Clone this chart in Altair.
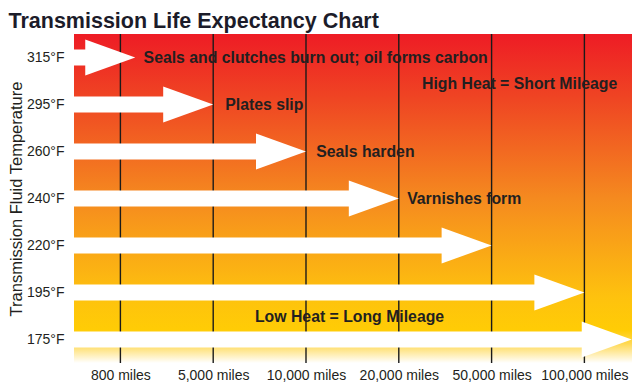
import altair as alt
import pandas as pd

# Data
temps = ["315°F", "295°F", "260°F", "240°F", "220°F", "195°F", "175°F"]
miles = ["800 miles", "5,000 miles", "10,000 miles", "20,000 miles", "50,000 miles", "100,000 miles"]
# arrow ends expressed in mileage-category units (0 = 800 miles ... 5 = 100,000 miles)
arrow_end = [0.16, 1, 2, 3, 4, 5, 5.51]

notes = ["Seals and clutches burn out; oil forms carbon", "Plates slip", "Seals harden",
         "Varnishes form", "High Heat = Short Mileage", "Low Heat = Long Mileage"]
note_x = [0.25, 1.13, 2.11, 3.09, 3.25, 1.45]
note_row = [0, 1, 2, 3, 0.57, 5.53]

X_DOMAIN = [-0.5, 5.513]
Y_DOMAIN = [-0.5, 6.5]
FONT = "Liberation Sans"
DARK = "#231f20"

arrows = pd.DataFrame({"row": list(range(len(temps))), "temp": temps, "end": arrow_end,
                       "start": [X_DOMAIN[0]] * len(temps)})
notes_df = pd.DataFrame({"text": notes, "x": note_x, "row": note_row})
miles_df = pd.DataFrame({"mile": miles, "pos": list(range(len(miles)))})
frame_df = pd.DataFrame({"x0": [X_DOMAIN[0]], "x1": [X_DOMAIN[1]],
                         "y0": [Y_DOMAIN[0]], "y1": [Y_DOMAIN[1]]})

label_expr_x = "[" + ",".join("'" + m + "'" for m in miles) + "][datum.value]"
label_expr_y = "[" + ",".join("'" + t + "'" for t in temps) + "][datum.value]"

xscale = alt.Scale(domain=X_DOMAIN, nice=False, zero=False)
yscale = alt.Scale(domain=Y_DOMAIN, nice=False, zero=False, reverse=True)

x_axis = alt.Axis(values=list(range(len(miles))), labelExpr=label_expr_x, grid=False,
                  ticks=False, domain=False,
                  labelFont=FONT, labelFontSize=14, labelColor=DARK, labelPadding=5,
                  labelFlush=False, labelOverlap=False, title=None)
y_axis = alt.Axis(values=list(range(len(temps))), labelExpr=label_expr_y, grid=False,
                  ticks=False, domain=False, labelFont=FONT, labelFontSize=14, labelColor=DARK,
                  labelPadding=10, title="Transmission Fluid Temperature", titleFont=FONT,
                  titleFontSize=16.5, titleFontWeight="normal", titleColor=DARK, titlePadding=2)

grad = alt.Gradient(
    gradient="linear", x1=0, y1=0, x2=0, y2=1,
    stops=[
        alt.GradientStop(offset=0.0, color="#ee1c25"),
        alt.GradientStop(offset=0.2, color="#ef4623"),
        alt.GradientStop(offset=0.5, color="#f58a1f"),
        alt.GradientStop(offset=0.8, color="#fec20e"),
        alt.GradientStop(offset=0.9, color="#ffcc05"),
        alt.GradientStop(offset=0.94, color="#ffd850"),
        alt.GradientStop(offset=1.0, color="#ffffff"),
    ],
)

background = alt.Chart(frame_df).mark_rect(color=grad).encode(
    x=alt.X("x0:Q", scale=xscale, axis=x_axis),
    x2="x1:Q",
    y=alt.Y("y0:Q", scale=yscale, axis=y_axis),
    y2="y1:Q",
)

lines = alt.Chart(miles_df).mark_rule(color="#1a1a1a", strokeWidth=1.4).encode(
    x=alt.X("pos:Q", scale=xscale),
)

shafts = alt.Chart(arrows).mark_rule(color="white", strokeWidth=16, strokeCap="butt",
                                     x2Offset=-48).encode(
    x=alt.X("start:Q", scale=xscale),
    x2="end:Q",
    y=alt.Y("row:Q", scale=yscale),
)

heads = alt.Chart(arrows).mark_point(shape="M -2 -0.72 L 0 0 L -2 0.72 Z", size=2500,
                                     filled=True, color="white", opacity=1, strokeWidth=0).encode(
    x=alt.X("end:Q", scale=xscale),
    y=alt.Y("row:Q", scale=yscale),
)

texts = alt.Chart(notes_df).mark_text(align="left", baseline="middle", font=FONT,
                                      fontSize=15.8, fontWeight="bold", color=DARK).encode(
    x=alt.X("x:Q", scale=xscale),
    y=alt.Y("row:Q", scale=yscale),
    text="text:N",
)

chart = alt.layer(background, lines, shafts, heads, texts).properties(
    width=558, height=329,
    padding={"left": 0, "top": 2, "right": 0, "bottom": 0},
    title=alt.TitleParams("Transmission Life Expectancy Chart", anchor="start", font=FONT,
                          fontSize=21.5, fontWeight="bold", color="#1c1c2a", offset=1),
).configure_view(strokeWidth=0)

chart.save("out.html", embed_options={"renderer": "svg", "actions": False})
